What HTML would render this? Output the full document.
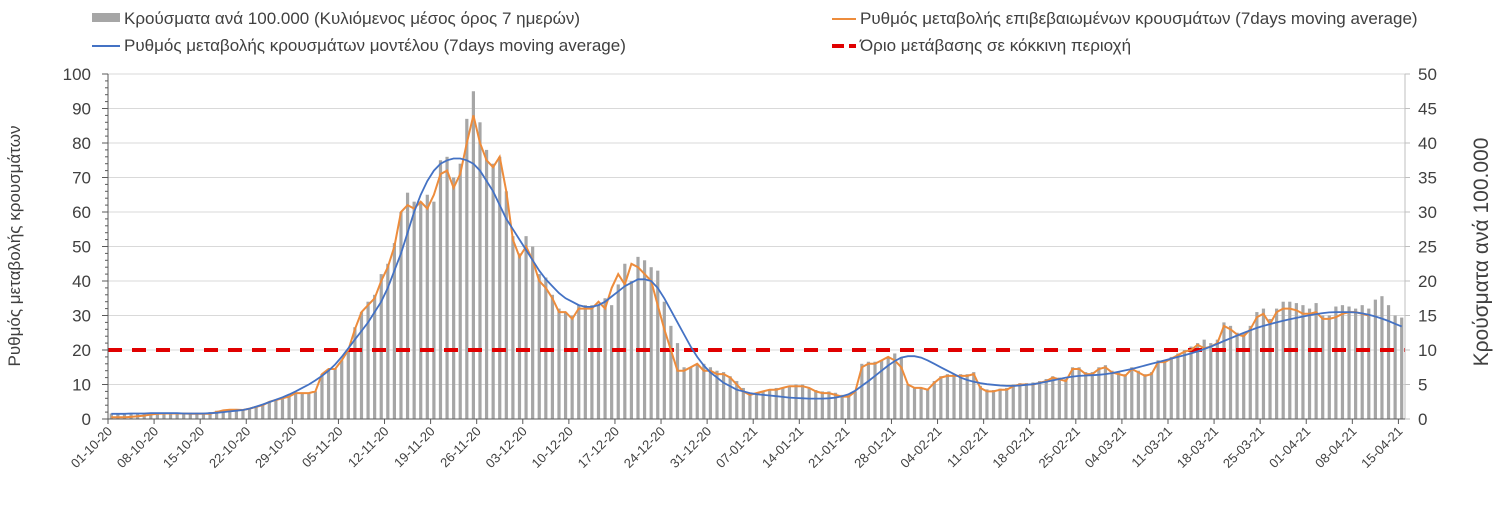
<!DOCTYPE html>
<html><head><meta charset="utf-8">
<style>
body{margin:0;background:#fff;width:1504px;height:500px;overflow:hidden;font-family:"Liberation Sans","DejaVu Sans",sans-serif;}
svg text{font-family:"Liberation Sans","DejaVu Sans",sans-serif;fill:#404040;}
</style></head><body>
<svg id="chart" width="1504" height="500">
<g id="legend">
 <g><rect x="92" y="13" width="28" height="9" fill="#a6a6a6"/><text x="124" y="24" font-size="17">Κρούσματα ανά 100.000 (Κυλιόμενος μέσος όρος 7 ημερών)</text></g>
 <g><line x1="832" y1="19" x2="856" y2="19" stroke="#ed8c3c" stroke-width="2"/><text x="860" y="24" font-size="17">Ρυθμός μεταβολής επιβεβαιωμένων κρουσμάτων (7days moving average)</text></g>
 <g><line x1="92" y1="46" x2="120" y2="46" stroke="#4472c4" stroke-width="2"/><text x="124" y="51" font-size="17">Ρυθμός μεταβολής κρουσμάτων μοντέλου (7days moving average)</text></g>
 <g><line x1="832" y1="46" x2="856" y2="46" stroke="#e00000" stroke-width="4" stroke-dasharray="12,5"/><text x="860" y="51" font-size="17">Όριο μετάβασης σε κόκκινη περιοχή</text></g>
</g>
<g id="grid"></g><g id="bars"></g><g id="lines"></g><g id="axes"></g>
<text transform="translate(20,246) rotate(-90)" text-anchor="middle" font-size="17">Ρυθμός μεταβολής κρουσμάτων</text>
<text transform="translate(1488,252) rotate(-90)" text-anchor="middle" font-size="21">Κρούσματα ανά 100.000</text>
</svg>
<script>
const startDate = [2020, 10, 1];
const nDays = 197;
const leftTicks = [0,10,20,30,40,50,60,70,80,90,100];
const rightTicks = [0,5,10,15,20,25,30,35,40,45,50];
const threshold = 20;
const cases = [0.8,0.8,0.8,0.8,0.8,0.8,0.8,
0.9,0.9,0.9,0.9,0.9,0.9,0.9,
0.9,1.0,1.2,1.3,1.3,1.3,1.3,
1.4,1.8,2.0,2.5,2.8,3.0,3.3,
3.7,3.7,3.7,4.0,6.5,7.2,7.3,
8.5,10.0,13.3,15.5,17.0,18.0,21.0,
22.5,25.5,30.0,32.8,31.5,31.5,32.5,
31.5,37.5,38.0,35.0,37.0,43.5,47.5,
43.0,39.0,37.0,38.0,33.0,26.5,24.0,
26.5,25.0,21.0,20.5,18.0,16.0,15.5,
15.0,16.5,16.5,16.5,16.5,17.5,16.5,
19.5,22.5,20.0,23.5,23.0,22.0,21.5,
17.0,13.5,11.0,7.5,7.5,8.0,8.0,
7.5,7.0,6.8,6.2,5.5,4.5,3.8,
3.8,4.0,4.3,4.5,4.5,4.8,5.0,
5.0,4.5,4.2,4.0,4.0,3.8,3.5,
3.5,4.0,8.0,8.3,8.3,8.5,9.0,
9.5,9.0,5.0,4.5,4.5,4.3,5.5,
6.2,6.5,6.5,6.5,6.5,6.8,4.8,
4.3,4.2,4.4,4.5,5.0,5.2,5.2,
5.3,5.5,5.8,6.2,6.0,5.8,7.5,
7.5,6.8,6.8,7.5,7.8,7.0,6.8,
6.5,7.5,7.0,6.5,6.8,8.5,8.5,
9.0,9.5,10.0,10.5,11.0,11.5,11.0,
11.5,14.0,13.5,12.5,12.5,13.5,15.5,
16.0,14.5,16.0,17.0,17.0,16.8,16.5,
16.0,16.8,15.0,15.0,16.3,16.5,16.3,
16.0,16.5,16.0,17.3,17.8,16.5,15.0,14.7];
const confirmedRate = [0.5,0.5,0.5,0.6,0.8,1,1.3,1.5,1.6,1.6,1.6,1.6,1.5,1.5,1.5,1.5,2,2.5,2.7,2.7,2.6,
3,3.5,4,5,5.5,6,6.5,
7.5,7.5,7.5,8,13,14.5,14.5,
17,20,26,31,33,35,40,
44,50,60,62,61,63,61,
65,71,72,67,71,80,88,
80,75,73,76,66,52,47,
50,46,40,38,35,31,31,
29,32,32,32,34,32,38,
42,39,45,44,42,40,33,
26,20,14,14,15,16,14,
14,13,13,12,10,8,7,
7.5,8,8.5,8.5,9,9.5,9.5,
9.5,9,8,7.5,7.5,7,6.5,
6.5,8,15,16,16,17,18,
17,15,10,9,9,8.5,10.5,
12,12.5,12.5,12.5,12.5,13,9,
8,8,8.5,8.5,9.5,10,10,
10,10.5,11,12,11.5,11,14.5,
14.5,13,13,14.5,15,13.5,13,
12.5,14.5,13.5,12.5,13,16.5,16.5,
17.5,18.5,19.5,20,21.5,20.5,21,
22,27,26,24.5,24,26,29.5,
30.5,27.5,31,32,32,31.5,30.5,
30.5,31,29,29,29.5,30.5,31,
31,30.5,30];
const modelRate = [1.5,1.5,1.5,1.6,1.6,1.6,1.7,1.7,1.7,1.7,1.7,1.6,1.6,1.6,1.6,
1.7,1.8,2.0,2.2,2.4,2.6,3.0,
3.6,4.2,4.9,5.6,6.3,7.1,8.0,
9.0,10.0,11.2,12.5,14,15.8,18,
20.5,23,25.5,28,31,34,38,
43,48,54,60,65,69,72,
74,75,75.5,75.5,75,74,72,
69,66,62,58,55,52,49,
46,43,40.5,38.5,36.5,35,34,
33,32.5,32.5,33,34,35.5,37,
38.5,39.5,40.5,40.5,40,38,35,
31.5,28,24.5,21,18,15.5,13.5,
12,10.5,9.5,8.5,8,7.5,7.2,
7,6.8,6.6,6.4,6.2,6.1,6.0,
5.9,5.9,5.9,6.0,6.2,6.6,7.2,
8.2,9.6,11,12.5,14,15.5,16.8,
17.8,18.2,18.2,17.8,17,16,15,
14,13,12,11.3,10.8,10.4,10.1,
9.9,9.7,9.6,9.6,9.7,9.9,10.1,
10.4,10.8,11.2,11.6,12,12.3,12.5,
12.6,12.7,12.8,13,13.3,13.7,14.1,
14.5,15,15.5,16,16.5,17,17.5,
18,18.5,19,19.6,20.3,21,21.8,
22.6,23.4,24.2,25,25.7,26.4,27,
27.5,28,28.5,28.9,29.3,29.7,30.1,
30.4,30.7,30.9,31,31,31,30.9,
30.6,30.2,29.7,29.1,28.4,27.6,26.8];

const NS='http://www.w3.org/2000/svg';
const X0=108, X1=1405, Y0=419, Y1=74;
const dayW=(X1-X0)/nDays;
const xC=i=>X0+(i+0.5)*dayW;
const xT=i=>X0+i*dayW;
const yL=v=>Y0-(v/100)*(Y0-Y1);
const yR=v=>Y0-(v/50)*(Y0-Y1);
function mk(tag,attrs,parent,txt){const e=document.createElementNS(NS,tag);for(const k in attrs)e.setAttribute(k,attrs[k]);if(txt!==undefined)e.textContent=txt;document.getElementById(parent).appendChild(e);return e;}

leftTicks.forEach(v=>{
 const g=mk('line',{x1:X0,x2:X1,y1:yL(v),y2:yL(v),stroke:'#d9d9d9','stroke-width':1},'grid');
 
 
 const t=mk('text',{x:91,y:yL(v)+6,'text-anchor':'end','font-size':17},'axes',String(v));
 
 
});
for(let v=0;v<=100;v+=2){mk('line',{x1:X0-(v%10===0?6:3),x2:X0,y1:yL(v),y2:yL(v),stroke:'#595959','stroke-width':1},'axes');}
rightTicks.forEach(v=>{
 const t=mk('text',{x:1418,y:yR(v)+6,'font-size':17,fill:'#808080'},'axes',String(v));
 
 
 mk('line',{x1:X1,x2:X1+5,y1:yR(v),y2:yR(v),stroke:'#bfbfbf'},'axes');
});
mk('line',{x1:X0,x2:X0,y1:Y1,y2:Y0,stroke:'#595959'},'axes');
mk('line',{x1:X1,x2:X1,y1:Y1,y2:Y0,stroke:'#bfbfbf'},'axes');
mk('line',{x1:X0,x2:X1,y1:Y0,y2:Y0,stroke:'#595959'},'axes');

const base=new Date(startDate[0],startDate[1]-1,startDate[2]);
const pad=n=>String(n).padStart(2,'0');
for(let i=0;i<nDays;i+=7){
 const d=new Date(base.getTime()+i*86400000+3600000*12);
 const lbl=pad(d.getDate())+'-'+pad(d.getMonth()+1)+'-'+String(d.getFullYear()).slice(2);
 mk('line',{x1:xT(i),x2:xT(i),y1:Y0,y2:Y0+5,stroke:'#595959'},'axes');
 const t=mk('text',{'text-anchor':'end','font-size':13,transform:`translate(${xT(i)+5},${Y0+13}) rotate(-45)`},'axes',lbl);
 
 
}
cases.forEach((v,i)=>{
 const r=mk('rect',{x:xC(i)-1.6,y:yR(v),width:3.2,height:Y0-yR(v),fill:'#a6a6a6'},'bars');
 
 
});
const th=mk('line',{x1:X0,x2:X1,y1:yL(threshold),y2:yL(threshold),stroke:'#e00000','stroke-width':4,'stroke-dasharray':'14,10'},'lines');


const pts=a=>a.map((v,i)=>xC(i).toFixed(1)+','+yL(v).toFixed(1)).join(' ');
const o=mk('polyline',{points:pts(confirmedRate),fill:'none',stroke:'#ed8c3c','stroke-width':2},'lines');


const b=mk('polyline',{points:pts(modelRate),fill:'none',stroke:'#4472c4','stroke-width':1.8},'lines');


</script>
</body></html>
